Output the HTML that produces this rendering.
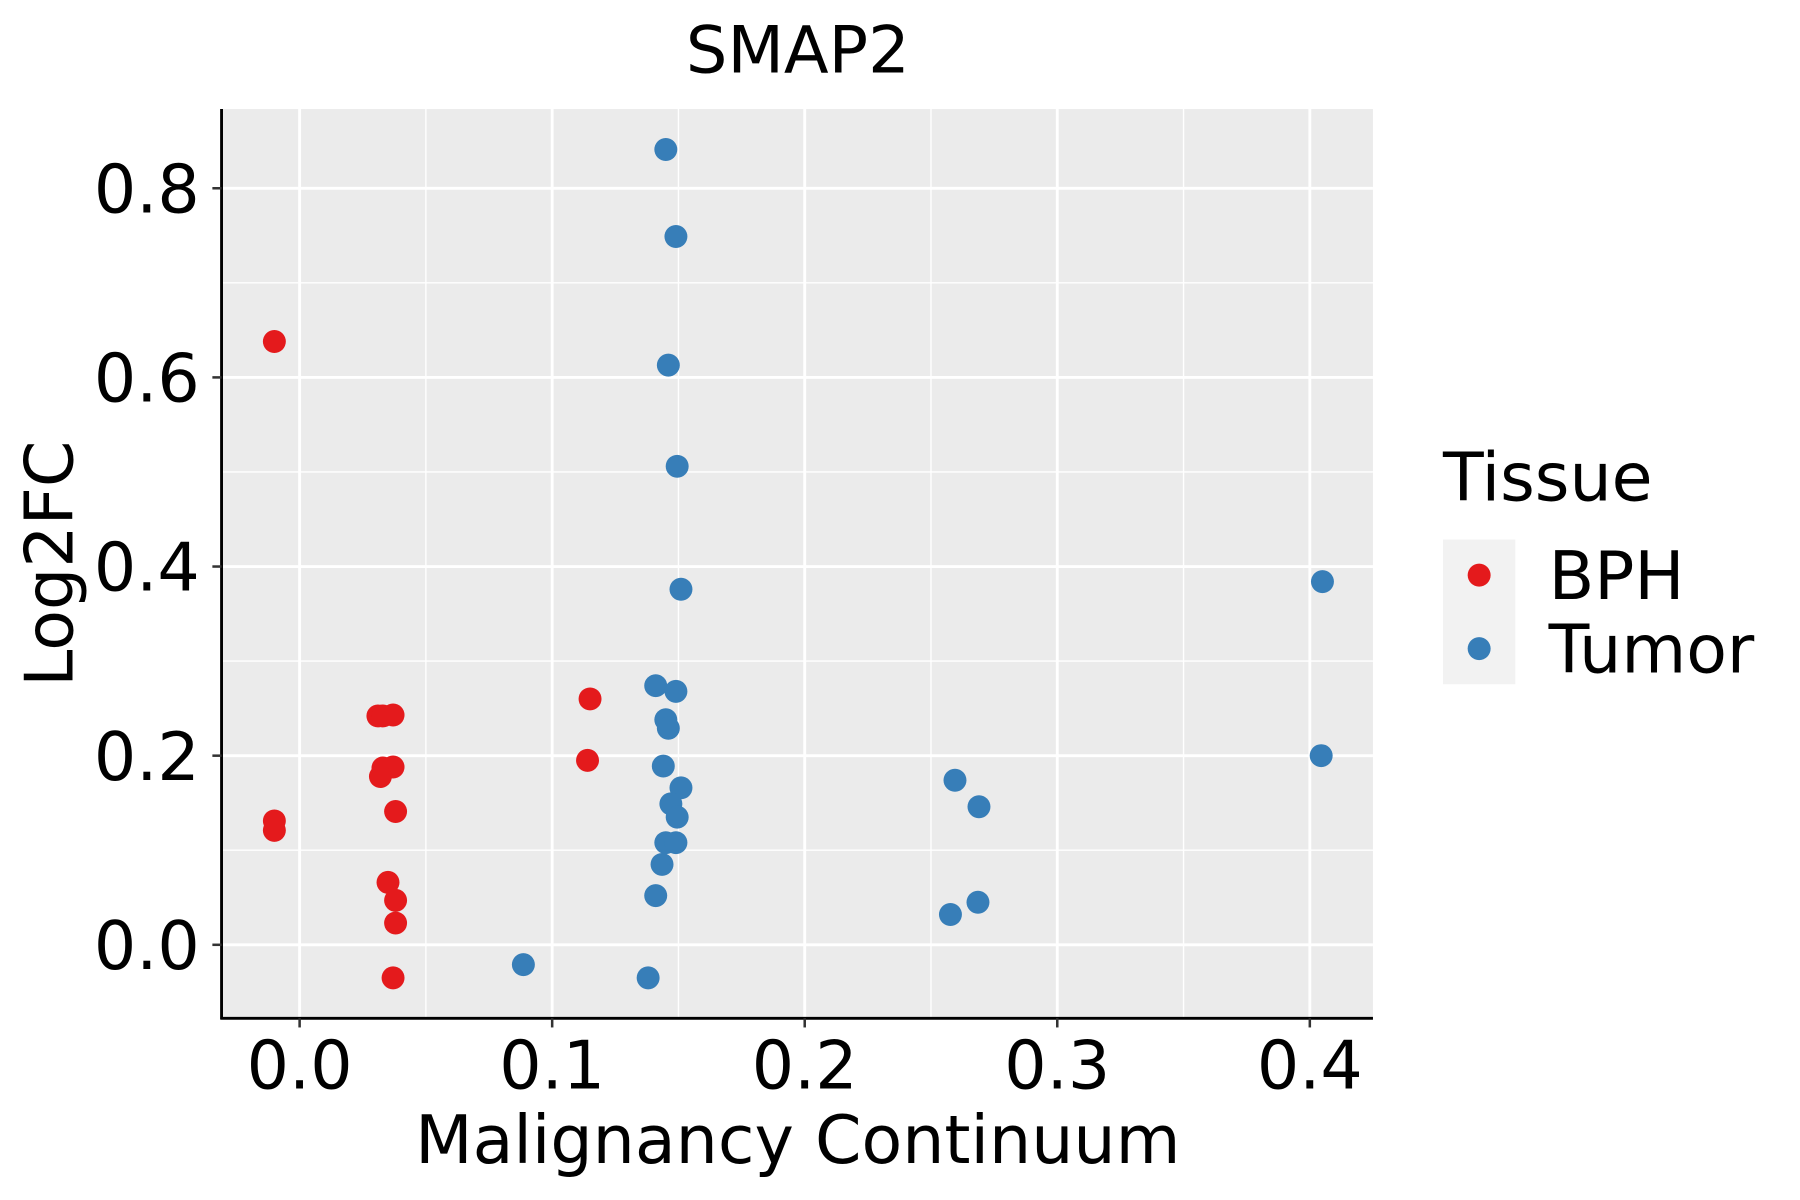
<!DOCTYPE html>
<html><head><meta charset="utf-8"><style>
html,body{margin:0;padding:0;background:#fff;}
svg{display:block;}
text{font-family:"DejaVu Sans","Liberation Sans",sans-serif;fill:#000;}
</style></head><body>
<svg id="chart" width="1800" height="1200" viewBox="0 0 1568 1045.3" preserveAspectRatio="none" xmlns="http://www.w3.org/2000/svg">
<rect x="0" y="0" width="1568" height="1046" fill="#fff"/>
<rect x="193" y="95" width="1003" height="792" fill="#ebebeb"/>
<g id="grid"></g>
<g id="points"></g>
<line x1="193" y1="95" x2="193" y2="888" stroke="#000" stroke-width="2.5"/>
<line x1="192" y1="887" x2="1196" y2="887" stroke="#000" stroke-width="2.5"/>
<g id="ticks"></g>
<text x="695" y="63" font-size="57" text-anchor="middle">SMAP2</text>
<text x="695" y="1013" font-size="58" text-anchor="middle">Malignancy Continuum</text>
<text transform="translate(63,491) rotate(-90)" font-size="58" text-anchor="middle">Log2FC</text>
<g>
<text x="1257" y="436" font-size="58">Tissue</text>
<rect x="1257" y="470" width="63" height="126" fill="#f2f2f2"/>
<circle cx="1288.5" cy="501" r="10" fill="#e41a1c"/>
<circle cx="1288.5" cy="565" r="10" fill="#377eb8"/>
<text x="1349" y="522" font-size="58">BPH</text>
<text x="1349" y="586" font-size="58">Tumor</text>
</g>
</svg>
<script>
const xTicks = [0.0, 0.1, 0.2, 0.3, 0.4];
const xTickLabels = ["0.0", "0.1", "0.2", "0.3", "0.4"];
const yTicks = [0.0, 0.2, 0.4, 0.6, 0.8];
const yTickLabels = ["0.0", "0.2", "0.4", "0.6", "0.8"];
const bphX = [-0.010, -0.010, -0.010, 0.031, 0.033, 0.037, 0.033, 0.037, 0.032, 0.038, 0.035, 0.038, 0.038, 0.037, 0.115, 0.114];
const bphY = [0.638, 0.131, 0.121, 0.242, 0.242, 0.243, 0.187, 0.188, 0.178, 0.141, 0.066, 0.047, 0.023, -0.035, 0.260, 0.195];
const tumorX = [0.145, 0.149, 0.146, 0.1495, 0.151, 0.141, 0.149, 0.145, 0.146, 0.144, 0.151, 0.147, 0.1495, 0.145, 0.149, 0.1435, 0.141, 0.0886, 0.138, 0.2595, 0.269, 0.2577, 0.2686, 0.405, 0.4045];
const tumorY = [0.841, 0.749, 0.613, 0.506, 0.376, 0.274, 0.268, 0.238, 0.229, 0.189, 0.166, 0.149, 0.135, 0.108, 0.108, 0.085, 0.052, -0.021, -0.035, 0.174, 0.146, 0.032, 0.045, 0.384, 0.200];

const NS = "http://www.w3.org/2000/svg";
const X0 = 261, XS = 2200, Y0 = 823, YS = 823.75;
const PX1 = 193, PX2 = 1196, PY1 = 95, PY2 = 887;
function sx(v){ return X0 + v * XS; }
function sy(v){ return Y0 - v * YS; }
function mk(tag, attrs){ const e = document.createElementNS(NS, tag); for (const k in attrs) e.setAttribute(k, attrs[k]); return e; }

const grid = document.getElementById('grid');
for (let i = 0; i < xTicks.length - 1; i++) {
  const v = (xTicks[i] + xTicks[i+1]) / 2;
  const l = mk('line', {x1: sx(v), x2: sx(v), y1: PY1, y2: PY2, stroke: '#fff', 'stroke-width': 1.2});
  
  
  grid.appendChild(l);
}
const yMinor = [-0.1, 0.1, 0.3, 0.5, 0.7];
yMinor.forEach(v => {
  const y = sy(v);
  if (y < PY1 || y > PY2) return;
  const l = mk('line', {x1: PX1, x2: PX2, y1: y, y2: y, stroke: '#fff', 'stroke-width': 1.2});
  
  
  grid.appendChild(l);
});
xTicks.forEach(v => {
  const l = mk('line', {x1: sx(v), x2: sx(v), y1: PY1, y2: PY2, stroke: '#fff', 'stroke-width': 2.5});
  
  
  grid.appendChild(l);
});
yTicks.forEach(v => {
  const l = mk('line', {x1: PX1, x2: PX2, y1: sy(v), y2: sy(v), stroke: '#fff', 'stroke-width': 2.5});
  
  
  grid.appendChild(l);
});

const ticks = document.getElementById('ticks');
xTicks.forEach((v, i) => {
  const t = mk('line', {x1: sx(v), x2: sx(v), y1: PY2, y2: PY2 + 8, stroke: '#333', 'stroke-width': 2.2});
  
  
  ticks.appendChild(t);
  const tx = mk('text', {x: sx(v), y: 948, 'font-size': 58, 'text-anchor': 'middle'});
  tx.textContent = xTickLabels[i];
  
  
  ticks.appendChild(tx);
});
yTicks.forEach((v, i) => {
  const t = mk('line', {x1: PX1 - 8, x2: PX1, y1: sy(v), y2: sy(v), stroke: '#333', 'stroke-width': 2.2});
  
  
  ticks.appendChild(t);
  const tx = mk('text', {x: 174, y: sy(v) + 21, 'font-size': 58, 'text-anchor': 'end'});
  tx.textContent = yTickLabels[i];
  
  
  ticks.appendChild(tx);
});

const pts = document.getElementById('points');
bphX.forEach((v, i) => {
  const c = mk('circle', {cx: sx(v), cy: sy(bphY[i]), r: 10, fill: '#e41a1c'});
  
  
  pts.appendChild(c);
});
tumorX.forEach((v, i) => {
  const c = mk('circle', {cx: sx(v), cy: sy(tumorY[i]), r: 10, fill: '#377eb8'});
  
  
  pts.appendChild(c);
});
</script>
</body></html>
